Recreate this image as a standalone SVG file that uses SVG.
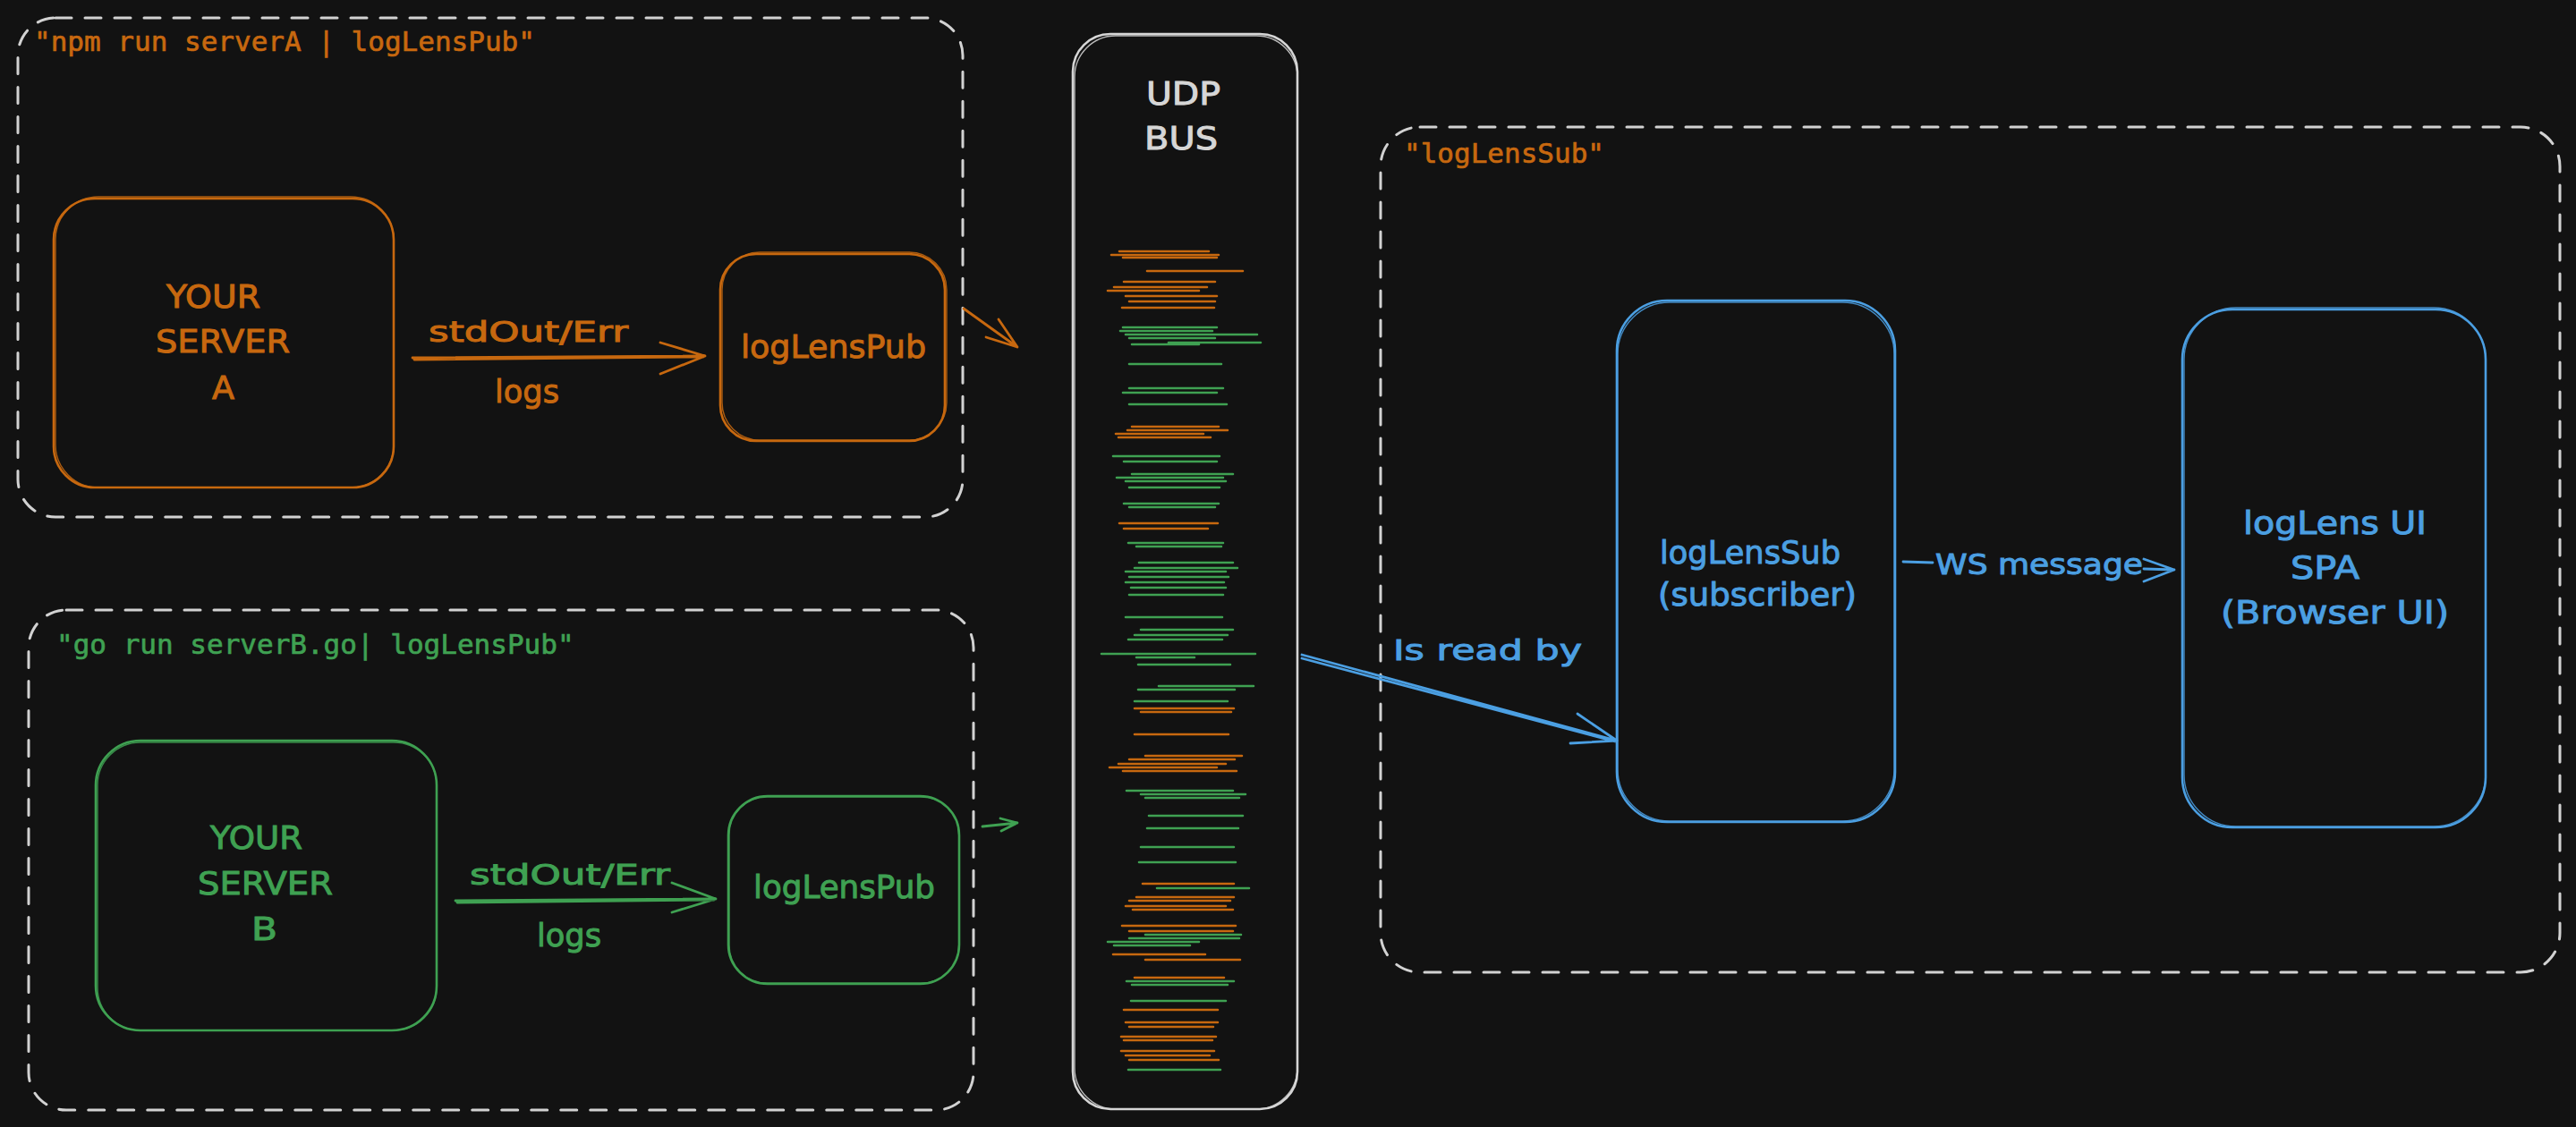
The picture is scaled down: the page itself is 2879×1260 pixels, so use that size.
<svg xmlns="http://www.w3.org/2000/svg" width="2879" height="1260" viewBox="0 0 2879 1260">
<style>
  .dash{fill:none;stroke:#d2d2d2;stroke-width:3;stroke-dasharray:18 15;stroke-linecap:round}
  .box{fill:none;stroke-width:2.6;stroke-linejoin:round}
  .box2{fill:none;stroke-width:1.4;opacity:0.85}
  .or{stroke:#c7680f}
  .gr{stroke:#3fa152}
  .bl{stroke:#4b9fe2}
  .wh{stroke:#d6d6d6}
  .tor{fill:#c7680f;stroke:#c7680f}
  .tgr{fill:#3fa152;stroke:#3fa152}
  .tbl{fill:#4b9fe2;stroke:#4b9fe2}
  .twh{fill:#d6d6d6;stroke:#d6d6d6}
  .hand{font-family:"DejaVu Sans","Noto Sans",sans-serif;font-size:36px;stroke-width:1}
  .arr{font-family:"DejaVu Sans","Noto Sans",sans-serif;font-size:32px;stroke-width:1}
  .mono{font-family:"DejaVu Sans Mono","Liberation Mono",monospace;font-size:31px;stroke-width:0.7}
  .ln{fill:none;stroke-width:2.8;stroke-linecap:round;stroke-linejoin:round}
  .log{fill:none;stroke-width:2.6;stroke-linecap:round}
</style>
<rect width="2879" height="1260" fill="#121212"/>

<g id="group-a">
  <rect class="dash" x="20" y="20" width="1056" height="558" rx="42"/>
  <text class="mono tor" x="38" y="57">"npm run serverA | logLensPub"</text>
</g>
<g id="server-a">
  <rect class="box or" x="60" y="222" width="380" height="323" rx="46"/>
  <rect class="box2 or" x="62" y="220" width="378" height="325" rx="48"/>
  <text class="hand tor" x="186" y="344" textLength="105" lengthAdjust="spacingAndGlyphs">YOUR</text>
  <text class="hand tor" x="174" y="394" textLength="150" lengthAdjust="spacingAndGlyphs">SERVER</text>
  <text class="hand tor" x="237" y="446" textLength="25" lengthAdjust="spacingAndGlyphs">A</text>
</g>
<g id="pub-a">
  <rect class="box or" x="805" y="284" width="251" height="209" rx="40"/>
  <rect class="box2 or" x="807" y="282" width="251" height="210" rx="42"/>
  <text class="hand tor" x="828" y="400" textLength="207" lengthAdjust="spacingAndGlyphs">logLensPub</text>
</g>

<g id="group-b">
  <rect class="dash" x="32" y="682" width="1056" height="559" rx="42"/>
  <text class="mono tgr" x="63" y="731">"go run serverB.go| logLensPub"</text>
</g>
<g id="server-b">
  <rect class="box gr" x="107" y="828" width="381" height="324" rx="50"/>
  <rect class="box2 gr" x="109" y="830" width="379" height="322" rx="48"/>
  <text class="hand tgr" x="235" y="949" textLength="103" lengthAdjust="spacingAndGlyphs">YOUR</text>
  <text class="hand tgr" x="221" y="1000" textLength="151" lengthAdjust="spacingAndGlyphs">SERVER</text>
  <text class="hand tgr" x="281" y="1051" textLength="29" lengthAdjust="spacingAndGlyphs">B</text>
</g>
<g id="pub-b">
  <rect class="box gr" x="814" y="890" width="258" height="210" rx="44"/>
  <rect class="box2 gr" x="815" y="891" width="257" height="208" rx="42"/>
  <text class="hand tgr" x="842" y="1004" textLength="203" lengthAdjust="spacingAndGlyphs">logLensPub</text>
</g>

<g id="udp-bus">
  <rect class="box wh" x="1199" y="38" width="251" height="1202" rx="42"/>
  <rect class="box2 wh" x="1201" y="40" width="249" height="1200" rx="46"/>
  <text class="hand twh" x="1281" y="117" textLength="83" lengthAdjust="spacingAndGlyphs">UDP</text>
  <text class="hand twh" x="1279" y="167" textLength="82" lengthAdjust="spacingAndGlyphs">BUS</text>
  <path class="log or" d="M1251 281H1351M1242 285H1362M1255 288H1360M1282 303H1389M1256 315H1358M1245 321H1349M1238 325H1340M1258 331H1360M1262 337H1358M1254 344H1357M1265 477H1362M1260 481H1372M1247 485H1345M1250 489H1353M1251 585H1361M1256 591H1350M1268 792H1379M1275 796H1376M1268 821H1373M1280 845H1388M1262 849H1380M1250 854H1370M1240 858H1360M1255 862H1382M1277 988H1379M1270 1003H1379M1262 1007H1375M1258 1013H1370M1266 1017H1378M1254 1035H1381M1262 1041H1378M1244 1067H1347M1280 1073H1386M1268 1093H1368M1256 1129H1361M1258 1143H1361M1262 1148H1356M1253 1159H1359M1256 1163H1355M1253 1175H1357M1258 1180H1352M1262 1185H1362"/>
  <path class="log gr" d="M1255 366H1360M1252 370H1355M1258 374H1405M1262 378H1358M1306 383H1409M1265 385H1340M1262 407H1365M1262 434H1367M1255 439H1360M1262 452H1371M1244 510H1363M1256 516H1360M1265 530H1378M1248 534H1367M1258 538H1370M1262 545H1363M1256 563H1362M1262 567H1358M1261 607H1367M1270 611H1365M1273 629H1378M1268 635H1383M1258 639H1370M1262 645H1373M1258 651H1368M1264 657H1370M1262 665H1367M1258 690H1366M1275 704H1378M1268 710H1372M1261 715H1366M1231 731H1403M1270 735H1335M1272 743H1375M1295 767H1401M1272 771H1380M1268 784H1372M1259 884H1378M1275 888H1392M1280 892H1385M1284 912H1389M1282 926H1384M1275 947H1379M1273 964H1381M1293 993H1396M1280 1045H1387M1262 1049H1385M1238 1053H1340M1245 1057H1330M1259 1097H1379M1265 1101H1372M1264 1119H1370M1261 1196H1364"/>
</g>

<g id="group-sub">
  <rect class="dash" x="1543" y="142" width="1318" height="945" rx="44"/>
  <text class="mono tor" x="1569" y="182">"logLensSub"</text>
</g>
<g id="loglens-sub">
  <rect class="box bl" x="1807" y="336" width="311" height="583" rx="56"/>
  <rect class="box2 bl" x="1808" y="338" width="309" height="580" rx="58"/>
  <text class="hand tbl" x="1855" y="630" textLength="202" lengthAdjust="spacingAndGlyphs">logLensSub</text>
  <text class="hand tbl" x="1853" y="677" textLength="222" lengthAdjust="spacingAndGlyphs">(subscriber)</text>
</g>
<g id="loglens-ui">
  <rect class="box bl" x="2439" y="346" width="339" height="579" rx="56"/>
  <rect class="box2 bl" x="2441" y="344" width="337" height="580" rx="58"/>
  <text class="hand tbl" x="2507" y="597" textLength="205" lengthAdjust="spacingAndGlyphs">logLens UI</text>
  <text class="hand tbl" x="2560" y="647" textLength="77" lengthAdjust="spacingAndGlyphs">SPA</text>
  <text class="hand tbl" x="2482" y="697" textLength="255" lengthAdjust="spacingAndGlyphs">(Browser UI)</text>
</g>

<g id="connectors">
  <path class="ln or" d="M461 400L788 398M463 402L786 399M738 383L788 398L738 418"/>
  <text class="arr tor" x="479" y="382" textLength="223" lengthAdjust="spacingAndGlyphs">stdOut/Err</text>
  <text class="hand tor" x="553" y="450" textLength="72" lengthAdjust="spacingAndGlyphs">logs</text>

  <path class="ln gr" d="M509 1007L800 1005M511 1009L798 1006M751 987L800 1005L751 1020"/>
  <text class="arr tgr" x="525" y="989" textLength="224" lengthAdjust="spacingAndGlyphs">stdOut/Err</text>
  <text class="hand tgr" x="600" y="1058" textLength="72" lengthAdjust="spacingAndGlyphs">logs</text>

  <path class="ln or" d="M1077 345L1137 388M1116 357L1137 388L1102 377"/>
  <path class="ln gr" d="M1098 924L1137 920M1118 915L1137 920L1119 929"/>

  <path class="ln bl" d="M1455 732L1807 828M1455 736L1805 829M1763 798L1807 828L1755 831"/>
  <text class="arr tbl" x="1557" y="738" textLength="211" lengthAdjust="spacingAndGlyphs">Is read by</text>

  <path class="ln bl" d="M2127 628L2160 629M2396 636L2430 637M2396 625L2430 637L2396 650"/>
  <text class="arr tbl" x="2163" y="642" textLength="232" lengthAdjust="spacingAndGlyphs">WS message</text>
</g>
</svg>
